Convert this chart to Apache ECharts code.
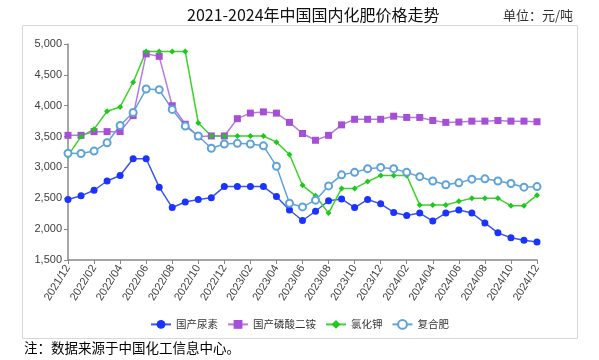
<!DOCTYPE html>
<html><head><meta charset="utf-8">
<script src="https://cdn.jsdelivr.net/npm/echarts@6/dist/echarts.min.js"></script>
<style>html,body{margin:0;padding:0;background:#fff}#c{width:599px;height:360px}</style>
</head><body><div id="c"></div>
<script>
const months = ["2021/12","2022/01","2022/02","2022/03","2022/04","2022/05","2022/06","2022/07","2022/08","2022/09","2022/10","2022/11","2022/12","2023/01","2023/02","2023/03","2023/04","2023/05","2023/06","2023/07","2023/08","2023/09","2023/10","2023/11","2023/12","2024/01","2024/02","2024/03","2024/04","2024/05","2024/06","2024/07","2024/08","2024/09","2024/10","2024/11","2024/12"];
const urea = [2480,2540,2630,2780,2870,3140,3140,2680,2350,2440,2480,2510,2690,2690,2690,2690,2530,2310,2140,2290,2460,2490,2350,2480,2410,2270,2220,2260,2130,2260,2310,2260,2100,1940,1860,1820,1790];
const dap = [3520,3520,3580,3580,3580,3840,4840,4800,4000,3700,3500,3510,3510,3790,3880,3900,3880,3730,3550,3440,3520,3690,3780,3780,3780,3830,3810,3810,3760,3730,3735,3750,3750,3760,3750,3750,3740];
const kcl = [3190,3500,3620,3910,3980,4380,4880,4880,4880,4880,3720,3510,3510,3510,3510,3510,3410,3210,2710,2540,2260,2660,2660,2770,2870,2870,2870,2390,2390,2390,2450,2500,2500,2500,2380,2380,2550];
const compound = [3230,3225,3265,3400,3680,3890,4270,4260,3940,3670,3510,3310,3380,3390,3380,3350,3020,2420,2360,2470,2700,2880,2920,2980,3000,2980,2920,2850,2780,2720,2750,2810,2815,2780,2740,2680,2690];
const seriesNames = ["国产尿素","国产磷酸二铵","氯化钾","复合肥"];
const yTicks = {min:1500, max:5000, interval:500};

const chart = echarts.init(document.getElementById('c'));
const font = "'Liberation Sans', 'Noto Sans', sans-serif";
const cjk = "'Noto Sans CJK SC', sans-serif";
chart.setOption({
  animation:false,
  graphic:[
    {type:'rect', shape:{x:22.5,y:25.5,width:555,height:313}, style:{fill:'none', stroke:'#d8d8d8', lineWidth:1}, z:-1},
    {type:'text', left:24, top:341, style:{text:'注：数据来源于中国化工信息中心。', font:"13.5px 'Noto Sans CJK SC'", fill:'#000'}}
  ],
  title:[
    {text:'2021-2024年中国国内化肥价格走势', left:182, top:2, textStyle:{fontSize:16, fontWeight:'normal', color:'#111', fontFamily:cjk}},
    {text:'单位：元/吨', right:21, top:4, textStyle:{fontSize:13, fontWeight:'normal', color:'#333', fontFamily:cjk}}
  ],
  legend:{
    data:seriesNames, top:314, left:'center', itemWidth:20, itemHeight:11, itemGap:9,
    textStyle:{fontSize:10.5, color:'#333', fontFamily:cjk}
  },
  grid:{left:68, right:62, top:44, bottom:100, containLabel:false},
  xAxis:{
    type:'category', data:months, boundaryGap:false,
    axisLine:{lineStyle:{color:'#888', width:1.5}},
    axisTick:{show:true, alignWithLabel:true, interval:1, length:4, lineStyle:{color:'#888'}},
    axisLabel:{interval:1, rotate:58, fontSize:11, color:'#404040', fontFamily:font, margin:6},
    splitLine:{show:false}
  },
  yAxis:{
    type:'value', min:yTicks.min, max:yTicks.max, interval:yTicks.interval,
    axisLine:{show:true, lineStyle:{color:'#888', width:1.5}},
    axisTick:{show:true, length:4, inside:false, lineStyle:{color:'#888'}},
    axisLabel:{fontSize:11, color:'#404040', fontFamily:font, margin:6,
      formatter:v=>v.toLocaleString('en-US')},
    splitLine:{show:false}
  },
  series:[
    {name:seriesNames[0], type:'line', data:urea, symbol:'circle', symbolSize:7,
      lineStyle:{color:'#3a55f0', width:1.5}, itemStyle:{color:'#1a33ff'}},
    {name:seriesNames[1], type:'line', data:dap, symbol:'rect', symbolSize:7,
      lineStyle:{color:'#b77ae0', width:1.5}, itemStyle:{color:'#a64fd6'}},
    {name:seriesNames[2], type:'line', data:kcl, symbol:'diamond', symbolSize:6,
      lineStyle:{color:'#3ad42a', width:1.5}, itemStyle:{color:'#1ec81e'}},
    {name:seriesNames[3], type:'line', data:compound, symbol:'emptyCircle', symbolSize:7,
      lineStyle:{color:'#5fa3db', width:1.5}, itemStyle:{color:'#5fa3db', borderWidth:1.2}}
  ]
});
</script></body></html>
